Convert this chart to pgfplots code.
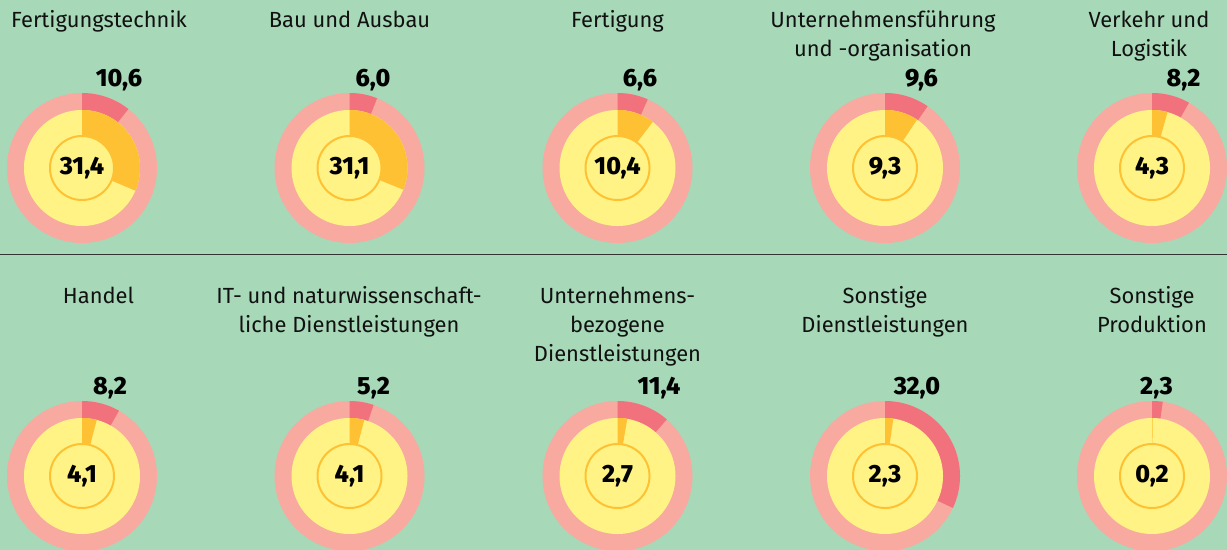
\documentclass[border=0pt]{standalone}
\usepackage{pgfplots}
\pgfplotsset{compat=1.18}
\usepackage{fontspec}
\setmainfont{Fira Sans}[BoldFont={Fira Sans ExtraBold}]
\definecolor{cBg}{HTML}{A7D8B8}
\definecolor{cPink}{HTML}{F8A9A0}
\definecolor{cRed}{HTML}{F1727C}
\definecolor{cYel}{HTML}{FFF385}
\definecolor{cOra}{HTML}{FEC133}
\definecolor{cTxt}{HTML}{111111}
% #1 cx, #2 cy, #3 outer value, #4 inner value, #5 outer label, #6 inner label, #7 label x, #8 label baseline y
\newcommand{\donut}[8]{%
  \addplot[fill=cPink,draw=none,domain=0:360,samples=145] ({#1+75*sin(x)},{#2-75*cos(x)}) -- cycle;
  \addplot[fill=cRed,draw=none,domain=0:#3*3.6,samples=61] ({#1+75*sin(x)},{#2-75*cos(x)}) -- (axis cs:#1,#2) -- cycle;
  \addplot[fill=cYel,draw=none,domain=0:360,samples=145] ({#1+58*sin(x)},{#2-58*cos(x)}) -- cycle;
  \addplot[fill=cOra,draw=none,domain=0:#4*3.6,samples=61] ({#1+58*sin(x)},{#2-58*cos(x)}) -- (axis cs:#1,#2) -- cycle;
  \addplot[fill=cYel,draw=cOra,line width=2pt,domain=0:360,samples=121] ({#1+32*sin(x)},{#2-32*cos(x)}) -- cycle;
  \node[font=\fontsize{25}{30}\selectfont\bfseries,text=black,inner sep=0pt] at (axis cs:#1,#2) {#6};
  \node[font=\fontsize{25}{30}\selectfont\bfseries,text=black,inner sep=0pt,anchor=base] at (axis cs:#7,#8) {#5};
}
\newcommand{\ttl}[3]{\node[font=\fontsize{22}{26}\selectfont,text=cTxt,inner sep=0pt,anchor=base] at (axis cs:#1,#2) {#3};}
\begin{document}
\begin{tikzpicture}
\begin{axis}[
  at={(0,0)}, anchor=south west,
  scale only axis, width=1227bp, height=550bp,
  xmin=0, xmax=1227, ymin=0, ymax=550, y dir=reverse,
  hide axis, clip=true,
]
\addplot[fill=cBg,draw=none] coordinates {(0,0) (1227,0) (1227,550) (0,550)} -- cycle;
\addplot[color=black!80,line width=1pt] coordinates {(0,254) (1227,254)};
% row 1
\donut{82}{168}{10.6}{31.4}{10,6}{31,4}{119}{86}
\donut{349.5}{168}{6.0}{31.1}{6,0}{31,1}{373}{86}
\donut{617.5}{168}{6.6}{10.4}{6,6}{10,4}{640}{86}
\donut{885}{168}{9.6}{9.3}{9,6}{9,3}{921.5}{86}
\donut{1152}{168}{8.2}{4.3}{8,2}{4,3}{1183.5}{86}
% row 2
\donut{82}{476}{8.2}{4.1}{8,2}{4,1}{110}{394}
\donut{349.5}{476}{5.2}{4.1}{5,2}{4,1}{373.5}{394}
\donut{617.5}{476}{11.4}{2.7}{11,4}{2,7}{659}{394}
\donut{885}{476}{32.0}{2.3}{32,0}{2,3}{917}{394}
\donut{1152}{476}{2.3}{0.2}{2,3}{0,2}{1156.5}{394}
% titles row 1
\ttl{99}{27}{Fertigungstechnik}
\ttl{349.5}{27}{Bau und Ausbau}
\ttl{617.5}{27}{Fertigung}
\ttl{883}{27}{Unternehmensführung}
\ttl{883}{56}{und -organisation}
\ttl{1149}{27}{Verkehr und}
\ttl{1149}{56}{Logistik}
% titles row 2
\ttl{98.5}{303}{Handel}
\ttl{349}{303}{IT- und naturwissenschaft-}
\ttl{349}{332}{liche Dienstleistungen}
\ttl{617.5}{303}{Unternehmens-}
\ttl{617.5}{332}{bezogene}
\ttl{617.5}{361}{Dienstleistungen}
\ttl{885}{303}{Sonstige}
\ttl{885}{332}{Dienstleistungen}
\ttl{1152}{303}{Sonstige}
\ttl{1152}{332}{Produktion}
\end{axis}
\pgfresetboundingbox
\useasboundingbox (0,0) rectangle (1227bp,550bp);
\end{tikzpicture}
\end{document}
